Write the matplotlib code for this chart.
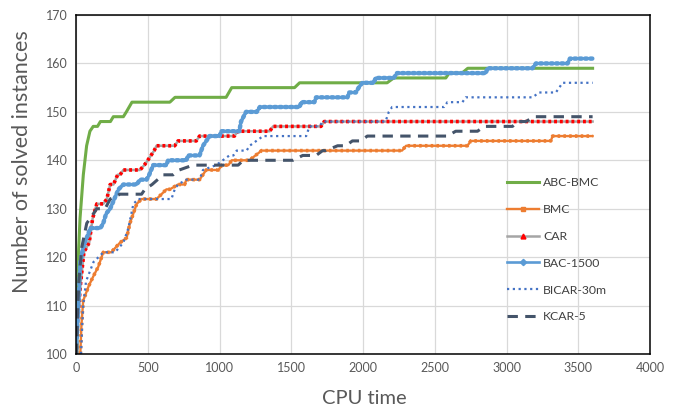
import matplotlib
matplotlib.use("Agg")
import matplotlib.pyplot as plt
from matplotlib.lines import Line2D

plt.rcParams['font.family'] = ['Lato', 'DejaVu Sans']

# ---- data ----
abc_x = [5, 7, 9, 16, 28, 51, 74, 97, 120, 150, 170, 240, 260, 330, 351, 390, 654, 690, 1046, 1085, 1523, 1558, 2168, 2214, 2577, 2600, 2690, 2730, 3600]
abc_y = [100, 105, 110, 120, 128, 137, 143, 146, 147, 147, 148, 148, 149, 149, 150, 152, 152, 153, 153, 155, 155, 156, 156, 157, 157, 158, 158, 159, 159]

bmc_x = [30, 38, 50, 88, 120, 155, 190, 245, 307, 353, 376, 423, 457, 561, 596, 630, 654, 711, 757, 769, 861, 907, 993, 1016, 1062, 1085, 1208, 1293, 2272, 2300, 2728, 2751, 3309, 3321, 3600]
bmc_y = [100, 106, 111, 114, 116, 118, 121, 121, 123, 124, 127, 131, 132, 132, 133, 134, 134, 135, 135, 136, 136, 138, 138, 139, 139, 140, 140, 142, 142, 143, 143, 144, 144, 145, 145]

car_x = [0, 3, 20, 30, 55, 92, 116, 145, 190, 215, 238, 261, 290, 307, 330, 446, 476, 500, 545, 561, 688, 711, 838, 861, 1104, 1127, 1350, 1373, 1707, 1730, 3600]
car_y = [100, 105, 110, 114, 121, 123, 128, 131, 131, 132, 135, 135, 137, 137, 138, 138, 139, 140, 142, 143, 143, 144, 144, 145, 145, 146, 146, 147, 147, 148, 148]

bac_x = [0, 20, 30, 50, 100, 170, 190, 210, 238, 296, 330, 423, 446, 492, 510, 538, 630, 642, 769, 781, 861, 885, 931, 1000, 1012, 1138, 1150, 1185, 1260, 1281, 1558, 1570, 1661, 1673, 1892, 1903, 1950, 1970, 1995, 2076, 2088, 2214, 2237, 2856, 2867, 3181, 3205, 3426, 3442, 3600]
bac_y = [100, 112, 119, 122, 126, 126, 127, 129, 130, 134, 135, 135, 136, 136, 137, 139, 139, 140, 140, 141, 141, 143, 145, 145, 146, 146, 148, 150, 150, 151, 151, 152, 152, 153, 153, 154, 154, 155, 156, 156, 157, 157, 158, 158, 159, 159, 160, 160, 161, 161]

bicar_x = [35, 42, 50, 70, 122, 191, 272, 330, 365, 400, 434, 665, 688, 711, 769, 861, 885, 977, 1023, 1069, 1097, 1120, 1189, 1210, 1304, 1604, 1627, 1696, 1719, 2157, 2180, 2203, 2565, 2588, 2693, 2716, 3181, 3228, 3344, 3391, 3600]
bicar_y = [100, 105, 110, 115, 119, 121, 121, 123, 126, 131, 132, 132, 134, 135, 136, 136, 138, 139, 140, 141, 141, 142, 142, 143, 145, 145, 147, 147, 148, 148, 150, 151, 151, 152, 152, 153, 153, 154, 154, 156, 156]

kcar_x = [5, 10, 20, 40, 75, 122, 145, 203, 238, 307, 457, 480, 530, 607, 677, 720, 815, 1130, 1166, 1512, 1580, 1673, 1719, 1742, 1823, 1880, 1926, 1984, 2030, 2588, 2646, 2798, 2844, 3042, 3077, 3135, 3193, 3600]
kcar_y = [100, 108, 115, 122, 127, 129, 130, 130, 132, 133, 133, 134, 135, 137, 137, 138, 139, 139, 140, 140, 141, 141, 142, 142, 143, 143, 144, 144, 145, 145, 146, 146, 147, 147, 148, 148, 149, 149]

series_names = ['ABC-BMC', 'BMC', 'CAR', 'BAC-1500', 'BICAR-30m', 'KCAR-5']
x_ticks = [0, 500, 1000, 1500, 2000, 2500, 3000, 3500, 4000]
y_ticks = [100, 110, 120, 130, 140, 150, 160, 170]

# ---- figure ----
fig = plt.figure(figsize=(6.83, 4.08), dpi=100)
ax = fig.add_axes([76/683, 1-354/408, 574/683, 339/408])

# ABC-BMC
ax.plot(abc_x, abc_y, color='#70AD47', lw=2.2, solid_joinstyle='round')
# BMC: orange line with dense small square marks
ax.plot(bmc_x, bmc_y, color='#ED7D31', lw=1.7)
ax.plot(bmc_x, bmc_y, color='#ED7D31', lw=2.6, dashes=(0.7, 0.9), dash_capstyle='butt')
# CAR: gray line with dense red triangle marks
ax.plot(car_x, car_y, color='#A5A5A5', lw=1.8)
ax.plot(car_x, car_y, color='#FF0000', lw=2.6, dashes=(0.8, 0.8), dash_capstyle='butt')
# BAC-1500: blue line with dense diamond marks
ax.plot(bac_x, bac_y, color='#5B9BD5', lw=1.9)
ax.plot(bac_x, bac_y, color='#5B9BD5', lw=3.2, dashes=(0.45, 0.75), dash_capstyle='round')
# BICAR-30m
ax.plot(bicar_x, bicar_y, color='#4472C4', lw=1.6, dashes=(1.0, 1.6))
# KCAR-5
ax.plot(kcar_x, kcar_y, color='#44546A', lw=2.2, dashes=(3.4, 2.4))

ax.set_xlim(0, 4000)
ax.set_ylim(100, 170)
ax.set_xticks(x_ticks)
ax.set_yticks(y_ticks)
ax.grid(True, color='#D9D9D9', lw=0.9)
ax.set_axisbelow(True)
ax.tick_params(length=0, labelsize=9, labelcolor='#595959', pad=6)
for s in ax.spines.values():
    s.set_color('black')
    s.set_linewidth(1.1)

fig.text(364/683, 1-398/408, 'CPU time', ha='center', va='center', fontsize=14.5, color='#595959')
fig.text(22/683, 1-162/408, 'Number of solved instances', ha='center', va='center',
         rotation=90, fontsize=15.5, color='#595959')

handles = [
    Line2D([], [], color='#70AD47', lw=2.2),
    Line2D([], [], color='#ED7D31', lw=1.7, marker='s', ms=2.8, mfc='#ED7D31', mec='#ED7D31'),
    Line2D([], [], color='#A5A5A5', lw=1.8, marker='^', ms=3.5, mfc='#FF0000', mec='#FF0000'),
    Line2D([], [], color='#5B9BD5', lw=1.9, marker='D', ms=3.2, mfc='#5B9BD5', mec='#5B9BD5'),
    Line2D([], [], color='#4472C4', lw=1.6, dashes=(1.0, 1.6)),
    Line2D([], [], color='#44546A', lw=2.2, dashes=(3.4, 2.4)),
]
leg = ax.legend(handles, series_names, loc='upper left', bbox_to_anchor=(0.751, 0.522),
                frameon=False, fontsize=8.8, labelspacing=1.3, handlelength=2.6,
                handletextpad=0.35, borderpad=0, borderaxespad=0)
for t in leg.get_texts():
    t.set_color('#404040')

fig.savefig('out.png', dpi=100)
